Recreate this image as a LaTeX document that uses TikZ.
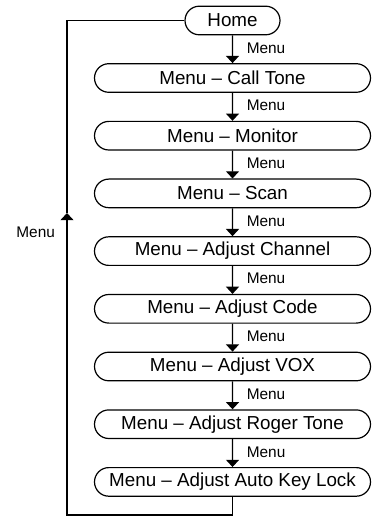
\documentclass[tikz,border=0pt]{standalone}
\usepackage{fontspec}
\setmainfont{Liberation Sans}
\usepackage{tikz}
\usetikzlibrary{positioning}
\usetikzlibrary{arrows.meta,shapes,shapes.misc}
\usetikzlibrary{calc}
\tikzstyle{menubox}=[rounded rectangle,draw,line width=0.6pt,minimum width=138pt,minimum height=14.3pt,inner sep=0pt,font=\fontsize{9.4}{11}\selectfont]
\tikzstyle{homebox}=[menubox,minimum width=47.5pt]
\tikzstyle{edge} = [draw,line width=0.6pt,-{Triangle[width=6.5pt,length=3.6pt]}]
\tikzstyle{undirectededge} = [draw,line width=0.6pt]
\tikzstyle{weight} = [font=\fontsize{7.7}{9}\selectfont]

\begin{document}
\begin{tikzpicture}[x=0.5pt,y=0.5pt]

 \useasboundingbox (0,0) rectangle (382,-517);

 %Home
 \node[homebox] (home) at (232.5,-20.5) {Home};

 %Menu items
  \def\dx{232.5};
  \def\dy{-78};
  \def\u{57.7};

   \foreach \y/\name/\label in {0/m1/Call Tone, 1/m2/Monitor, 2/m3/Scan, 3/m4/Adjust Channel, 4/m5/Adjust Code, 5/m6/Adjust VOX, 6/m7/Adjust Roger Tone, 7/m8/Adjust Auto Key Lock}
          \node[menubox] (\name) at (\dx, \dy - \y*\u) {Menu -- \label};

  \foreach \source/ \dest in {home/m1, m1/m2, m2/m3, m3/m4, m4/m5, m5/m6, m6/m7, m7/m8}
         \path[edge] (\source) -- node[weight,right,xshift=3.5pt,yshift=0.6pt] (lbl\source) {Menu} (\dest);

 %back to Home
 \coordinate (corner) at (67,-515);
 \coordinate (tip) at (67,-213);

 \path[edge] (m8.south) |- (corner) -- (tip);
 \path[undirectededge] (tip) |- (home.west);

 \node[weight,anchor=east] (lblback) at ($(tip)+(-5,-19)$) {Menu};

\end{tikzpicture}
\end{document}
